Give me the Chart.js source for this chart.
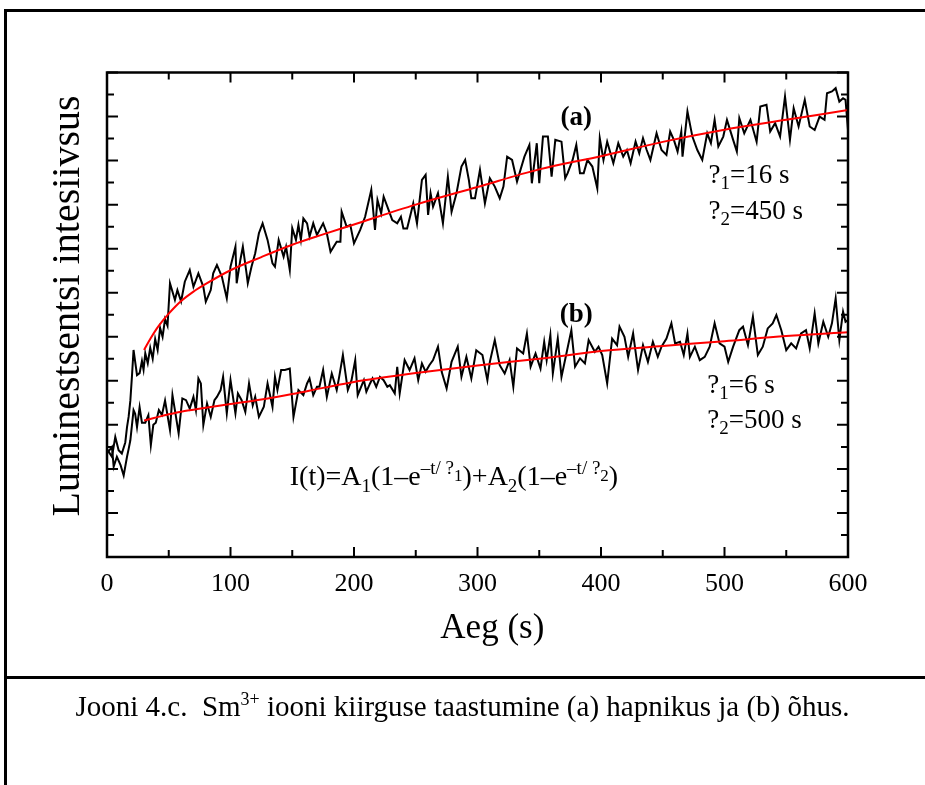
<!DOCTYPE html>
<html><head><meta charset="utf-8">
<script src="https://cdn.jsdelivr.net/npm/chart.js@4.4.0/dist/chart.umd.min.js"></script>
<style>
html,body{margin:0;padding:0;background:#fff;}
#wrap{position:relative;width:925px;height:785px;overflow:hidden;background:#fff;}
#c{position:absolute;left:0;top:0;}
.line{position:absolute;background:#000;}
#caption{position:absolute;left:0;width:925px;text-align:center;font-family:'Liberation Serif','Times New Roman',serif;font-size:29px;line-height:29px;top:692px;white-space:nowrap;color:#000;}
#caption .sup{position:relative;top:-0.6em;font-size:0.62em;}
</style></head>
<body>
<div id="wrap">
<canvas id="c" width="925" height="785"></canvas>
<div class="line" style="left:4px;top:9px;width:921px;height:3px"></div>
<div class="line" style="left:4px;top:9px;width:3px;height:776px"></div>
<div class="line" style="left:4px;top:676px;width:921px;height:3px"></div>
<div id="caption">Jooni 4.c.&nbsp; Sm<span class="sup">3+</span> iooni kiirguse taastumine (a) hapnikus ja (b) õhus.</div>
</div>
<script>
// ---- data (time in s, intensity in arbitrary units) ----
const curveA = [[0,4.9],[4,4.55],[6.7,5.45],[9.4,4.85],[12,4.7],[14.8,5.2],[16.2,5.9],[17.5,6.36],[18.9,7.1],[20.2,8.2],
[21.5,9.4],[24.3,8.26],[26.4,8.35],[28.3,8.9],[29.6,8.5],[31,9.25],[33,8.8],[35,9.5],[37,9.0],[39,9.9],
[41,9.4],[43,10.4],[45,10.0],[47,10.8],[49,10.5],[51,12.43],[55,11.67],[57,12.12],[60,11.6],[63,12.5],
[67,13.03],[70,12.27],[74,12.88],[78,12.27],[80,11.59],[84,12.12],[86,12.88],[89,13.26],[93,12.73],[97,11.74],
[100,13.18],[104,14.09],[105,12.43],[108,13.5],[110,14.09],[113,12.88],[114,12.43],[117,13.18],[120,13.79],[123,14.7],
[126,15.15],[130,14.4],[134,13.33],[136,13.18],[139,14.4],[143,13.64],[145,14.09],[148,13.03],[150,14.93],[153,14.4],
[155,15.08],[157,14.4],[159,15.38],[162,15.15],[164,14.55],[167,15.15],[170,14.62],[175,15.15],[178,14.7],[181,13.86],
[186,14.32],[189,14.32],[190,15.68],[194,15.0],[197,15.08],[200,14.24],[205,14.85],[209,15.45],[214,16.67],[217,14.85],
[219,16.21],[222,15.6],[224,16.36],[227,15.91],[231,15.3],[235,15.15],[238,15.45],[240,14.92],[243,14.92],[246,15.6],
[248,16.06],[251,15.15],[255,17.12],[258,17.35],[260,15.53],[262,16.52],[264,15.91],[268,16.52],[272,15.15],[276,17.27],
[279,15.68],[283,16.52],[287,17.73],[290,18.03],[293,17.12],[295,16.29],[298,16.29],[302,17.58],[306,16.06],[310,17.2],
[314,16.82],[318,16.29],[321,16.82],[324,18.18],[328,18.03],[332,17.05],[338,18.18],[342,18.71],[344,16.97],[348,18.79],
[350,16.97],[353,19.09],[357,19.09],[360,17.27],[363,18.94],[368,18.86],[371,17.2],[373,17.43],[377,18.03],[380,18.71],
[383,17.43],[386,17.43],[389,18.03],[393,17.73],[397,16.74],[399,19.02],[402,18.03],[405,18.86],[410,17.88],[414,18.79],
[418,18.18],[421,18.48],[424,17.88],[428,18.86],[431,18.33],[434,19.02],[437,18.48],[440,18.03],[445,19.24],[449,18.48],
[453,18.26],[456,19.32],[459,18.94],[462,18.41],[465,19.32],[466,18.18],[470,20.23],[474,19.09],[478,18.48],[482,18.03],
[486,19.24],[489,18.79],[492,19.85],[495,18.64],[499,19.09],[502,19.85],[507,18.94],[510,18.41],[512,19.93],[516,19.24],
[521,19.85],[526,18.86],[529,20.45],[534,20.53],[537,19.32],[541,19.7],[545,19.09],[549,20.91],[553,18.94],[556,20.38],
[560,19.55],[565,20.76],[569,19.55],[573,19.39],[577,20.0],[581,19.85],[583,21.06],[587,21.14],[590,21.29],[593,20.68],
[596,20.83],[598,20.76],[600,19.39]];

const curveB = [[0,4.7],[4,5.0],[5.4,4.1],[8,4.55],[11,4.17],[13.5,3.7],[16.2,4.55],[17.5,4.9],[18.9,5.3],[21.5,6.67],
[22.8,6.5],[24.3,5.9],[26.4,6.8],[28.3,6.1],[31,6.1],[33.5,6.44],[35.5,5.08],[37.5,6.0],[39.5,6.1],[42,6.67],
[44.5,6.45],[47,7.1],[51,5.76],[53,7.35],[55,6.67],[58,5.61],[61,7.2],[64,7.12],[67,6.74],[70,7.27],
[72,6.67],[74,8.11],[76,7.88],[78,5.99],[81,6.97],[84,6.36],[87,7.12],[89,7.27],[92,7.58],[94,8.18],
[97,6.52],[100,8.03],[102,7.27],[104,6.52],[106,7.43],[109,7.12],[112,6.59],[115,7.88],[118,6.89],[120,7.27],
[123,6.36],[127,6.82],[130,7.88],[134,6.82],[136,8.18],[138,7.58],[141,8.49],[144,8.49],[148,8.56],[151,6.36],
[155,7.58],[159,7.35],[162,7.88],[164,8.11],[167,7.35],[170,7.73],[172,7.73],[175,8.49],[178,7.27],[182,8.33],
[186,7.58],[188,8.18],[191,9.17],[195,7.58],[198,8.03],[201,8.94],[203,7.35],[208,8.03],[210,7.5],[213,7.88],
[215,8.11],[218,7.73],[221,8.18],[224,8.03],[227,7.73],[229,7.8],[233,7.43],[235,8.64],[237,7.43],[241,8.94],
[245,8.49],[249,9.02],[252,8.03],[255,8.79],[258,8.41],[261,8.71],[264,8.94],[268,9.55],[271,8.41],[275,7.65],
[279,8.86],[284,9.55],[287,8.18],[291,9.09],[295,8.11],[299,9.39],[304,9.17],[308,8.03],[310,8.86],[314,9.85],
[318,8.71],[322,8.33],[326,8.94],[329,7.73],[332,9.47],[337,9.24],[340,10.15],[343,8.64],[347,9.24],[351,8.56],
[354,9.77],[356,8.94],[359,10.08],[361,8.33],[365,9.92],[368,8.18],[372,9.24],[376,10.3],[379,8.64],[383,9.02],
[387,8.79],[390,9.85],[395,9.32],[398,9.55],[401,9.17],[405,7.88],[409,9.92],[413,9.62],[415,10.46],[419,10.0],
[422,9.09],[426,10.15],[430,8.49],[434,9.62],[438,8.86],[442,9.77],[446,9.09],[449,9.55],[453,9.92],[457,10.61],
[460,9.7],[464,9.77],[467,9.17],[470,10.15],[472,9.09],[476,9.55],[480,8.94],[484,9.09],[488,9.55],[492,10.61],
[496,9.7],[500,9.55],[503,8.86],[507,9.55],[512,10.3],[515,10.46],[519,9.62],[523,10.91],[527,9.17],[531,9.55],
[535,10.38],[539,10.61],[542,10.99],[546,10.3],[550,9.39],[554,9.7],[558,9.47],[562,10.15],[566,10.3],[569,9.47],
[573,11.06],[576,9.7],[580,10.68],[584,10.0],[587,10.61],[590,11.74],[593,9.85],[596,11.14],[598,10.68],[600,10.76]];

const fitTime = [30,35,40,45,50,55,60,70,80,100,125,150,175,200,250,300,350,400,450,500,550,600];
const fitA    = [9.4,9.9,10.35,10.72,11.05,11.35,11.62,12.05,12.4,13.02,13.62,14.18,14.65,15.1,16.0,16.8,17.6,18.2,18.85,19.4,19.85,20.3];
const fitB    = [6.2,6.27,6.34,6.41,6.48,6.54,6.6,6.69,6.78,6.95,7.15,7.4,7.68,7.95,8.35,8.7,9.0,9.35,9.58,9.8,10.03,10.2];

const xTickLabels = ['0','100','200','300','400','500','600'];
const xMajor = [0,100,200,300,400,500,600];
const xMinor = [50,150,250,350,450,550];
const yMajor = [0,2,4,6,8,10,12,14,16,18,20,22];
const yMinor = [1,3,5,7,9,11,13,15,17,19,21];

const FONT = '"Liberation Serif","Times New Roman",serif';

function drawRich(ctx, x, y, parts, align) {
  let w = 0;
  parts.forEach(p => { ctx.font = (p[3] ? 'bold ' : '') + p[1] + 'px ' + FONT; w += ctx.measureText(p[0]).width; });
  let cx = align === 'center' ? x - w / 2 : x;
  parts.forEach(p => {
    ctx.font = (p[3] ? 'bold ' : '') + p[1] + 'px ' + FONT;
    ctx.fillText(p[0], cx, y + p[2]);
    cx += ctx.measureText(p[0]).width;
  });
}

const framePlugin = {
  id: 'frame',
  afterDraw(chart) {
    const ctx = chart.ctx, xs = chart.scales.x, ys = chart.scales.y, a = chart.chartArea;
    ctx.save();
    ctx.strokeStyle = '#000';
    ctx.lineWidth = 2;
    ctx.beginPath();
    const xt = (list, len) => list.forEach(t => {
      const px = xs.getPixelForValue(t);
      ctx.moveTo(px, a.bottom); ctx.lineTo(px, a.bottom - len);
      ctx.moveTo(px, a.top); ctx.lineTo(px, a.top + len);
    });
    const yt = (list, len) => list.forEach(v => {
      const py = ys.getPixelForValue(v);
      ctx.moveTo(a.left, py); ctx.lineTo(a.left + len, py);
      ctx.moveTo(a.right, py); ctx.lineTo(a.right - len, py);
    });
    xt(xMajor, 10); xt(xMinor, 7); yt(yMajor, 11); yt(yMinor, 7);
    ctx.stroke();
    ctx.lineWidth = 2.5;
    ctx.strokeRect(a.left, a.top, a.right - a.left, a.bottom - a.top);

    // annotations
    ctx.fillStyle = '#000';
    ctx.textBaseline = 'alphabetic';
    ctx.textAlign = 'left';
    const P = (t, v) => [xs.getPixelForValue(t), ys.getPixelForValue(v)];
    let p;
    p = P(380, 19.6);  drawRich(ctx, p[0], p[1], [['(a)', 27, 0, true]], 'center');
    p = P(380, 10.67); drawRich(ctx, p[0], p[1], [['(b)', 27, 0, true]], 'center');
    p = P(487, 16.98); drawRich(ctx, p[0], p[1], [['?', 27, 0], ['1', 19, 6], ['=16 s', 27, 0]]);
    p = P(487, 15.33); drawRich(ctx, p[0], p[1], [['?', 27, 0], ['2', 19, 6], ['=450 s', 27, 0]]);
    p = P(486, 7.44);  drawRich(ctx, p[0], p[1], [['?', 27, 0], ['1', 19, 6], ['=6 s', 27, 0]]);
    p = P(486, 5.85);  drawRich(ctx, p[0], p[1], [['?', 27, 0], ['2', 19, 6], ['=500 s', 27, 0]]);
    p = P(148, 3.26);
    drawRich(ctx, p[0], p[1], [['I(t)=A', 28, 0], ['1', 19, 7], ['(1\u2013e', 28, 0], ['\u2013t/ ?', 19, -11], ['1', 17, -4],
      [')+A', 28, 0], ['2', 19, 7], ['(1\u2013e', 28, 0], ['\u2013t/ ?', 19, -11], ['2', 17, -4], [')', 28, 0]]);

    // axis titles
    ctx.font = '35px ' + FONT;
    ctx.textAlign = 'center';
    ctx.fillText('Aeg (s)', xs.getPixelForValue(312), a.bottom + 81);
    ctx.save();
    ctx.translate(79, ys.getPixelForValue(11.4));
    ctx.rotate(-Math.PI / 2);
    ctx.font = '40px ' + FONT;
    ctx.fillText('Luminestsentsi intesiivsus', 0, 0);
    ctx.restore();
    ctx.restore();
  }
};

const toXY = arr => arr.map(p => ({x: p[0], y: p[1]}));
const fitXY = vals => fitTime.map((t, i) => ({x: t, y: vals[i]}));

new Chart(document.getElementById('c'), {
  type: 'line',
  data: {
    datasets: [
      {label: 'fit a', data: fitXY(fitA), borderColor: '#ff0000', borderWidth: 2, pointRadius: 0, cubicInterpolationMode: 'monotone', fill: false},
      {label: 'fit b', data: fitXY(fitB), borderColor: '#ff0000', borderWidth: 2, pointRadius: 0, cubicInterpolationMode: 'monotone', fill: false},
      {label: '(a)', data: toXY(curveA), borderColor: '#000', borderWidth: 2, pointRadius: 0, tension: 0, fill: false},
      {label: '(b)', data: toXY(curveB), borderColor: '#000', borderWidth: 2, pointRadius: 0, tension: 0, fill: false}
    ]
  },
  options: {
    responsive: false,
    animation: false,
    devicePixelRatio: 1,
    layout: {padding: {left: 0, top: 72.5, right: 77, bottom: 0}},
    plugins: {legend: {display: false}, tooltip: {enabled: false}, title: {display: false}},
    scales: {
      x: {
        type: 'linear', min: 0, max: 600,
        afterFit: s => { s.height = 228; },
        grid: {display: false, drawTicks: false},
        border: {display: false},
        ticks: {
          stepSize: 100, padding: 12, color: '#000', maxRotation: 0,
          font: {family: FONT, size: 26},
          callback: (v) => { const i = xMajor.indexOf(v); return i >= 0 ? xTickLabels[i] : ''; }
        }
      },
      y: {
        type: 'linear', min: 0, max: 22,
        afterFit: s => { s.width = 107; },
        grid: {display: false, drawTicks: false},
        border: {display: false},
        ticks: {display: false}
      }
    }
  },
  plugins: [framePlugin]
});
</script>
</body></html>
